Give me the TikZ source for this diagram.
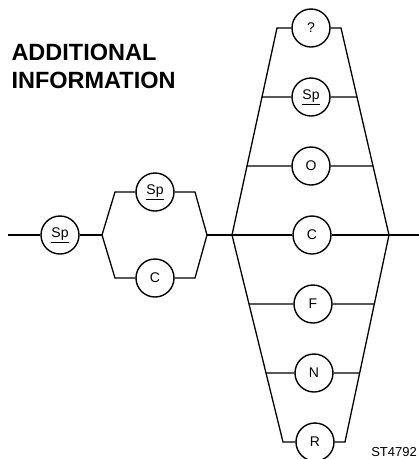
\documentclass[tikz,border=0pt]{standalone}
\usepackage{fontspec}
\setmainfont{Liberation Sans}
\usepackage{tikz}
\usetikzlibrary{calc}
\tikzset{
  opt/.style={draw, circle, line width=1.4pt, minimum size=38pt, inner sep=0pt,
    font=\fontsize{14}{16}\selectfont},
  rail/.style={line width=1.3pt}
}

\begin{document}
\begin{tikzpicture}[x=1pt, y=-1pt]
\useasboundingbox (0,0) rectangle (419,459);
\def\ym{235}
\def\dy{69}
\def\br{43}

\node[anchor=base west, font=\fontsize{23.5}{28}\selectfont\bfseries] (title1) at (8,60) {ADDITIONAL};
\node[anchor=base west, font=\fontsize{23.5}{28}\selectfont\bfseries] (title2) at (8,88) {INFORMATION};

\coordinate (in) at (8,\ym);
\node[opt] (sp1) at (60,\ym) {\underline{Sp}};
\coordinate (split) at (102,\ym);
\coordinate (ua) at (115,\ym-\br);
\coordinate (ub) at (195,\ym-\br);
\coordinate (la) at (115,\ym+\br);
\coordinate (lb) at (195,\ym+\br);
\coordinate (join) at (207,\ym);
\node[opt] (sp2) at (155,\ym-\br) {\underline{Sp}};
\node[opt] (c1) at (155,\ym+\br) {C};

\draw[rail] (in) -- (sp1) -- (split);
\draw[rail] (split) -- (ua) -- (sp2) -- (ub) -- (join);
\draw[rail] (split) -- (la) -- (c1) -- (lb) -- (join);

\coordinate (fl) at (232,\ym);
\coordinate (fr) at (389,\ym);
\coordinate (tl) at (277,\ym-3*\dy);
\coordinate (tr) at (341,\ym-3*\dy);
\coordinate (bl) at (283,\ym+3*\dy);
\coordinate (bri) at (345,\ym+3*\dy);
\coordinate (out) at (419,\ym);

\node[opt] (q) at (311,\ym-3*\dy) {?};
\node[opt] (sp3) at (311,\ym-2*\dy) {\underline{Sp}};
\node[opt] (o) at (311,\ym-\dy) {O};
\node[opt] (c2) at (312,\ym) {C};
\node[opt] (f) at (313,\ym+\dy) {F};
\node[opt] (n) at (314,\ym+2*\dy) {N};
\node[opt] (r) at (315,\ym+3*\dy) {R};

\coordinate (l2) at ($(fl)!2/3!(tl)$);
\coordinate (r2) at ($(fr)!2/3!(tr)$);
\coordinate (l1) at ($(fl)!1/3!(tl)$);
\coordinate (r1) at ($(fr)!1/3!(tr)$);
\coordinate (l4) at ($(fl)!1/3!(bl)$);
\coordinate (r4) at ($(fr)!1/3!(bri)$);
\coordinate (l5) at ($(fl)!2/3!(bl)$);
\coordinate (r5) at ($(fr)!2/3!(bri)$);

\draw[rail] (join) -- (fl) -- (c2) -- (fr) -- (out);
\draw[rail] (fl) -- (tl) -- (q) -- (tr) -- (fr);
\draw[rail] (fl) -- (bl) -- (r) -- (bri) -- (fr);
\draw[rail] (l2) -- (sp3) -- (r2);
\draw[rail] (l1) -- (o) -- (r1);
\draw[rail] (l4) -- (f) -- (r4);
\draw[rail] (l5) -- (n) -- (r5);

\node[anchor=base east, inner sep=1pt, font=\fontsize{13}{15}\selectfont] (code) at (418,456) {ST4792};
\end{tikzpicture}
\end{document}
